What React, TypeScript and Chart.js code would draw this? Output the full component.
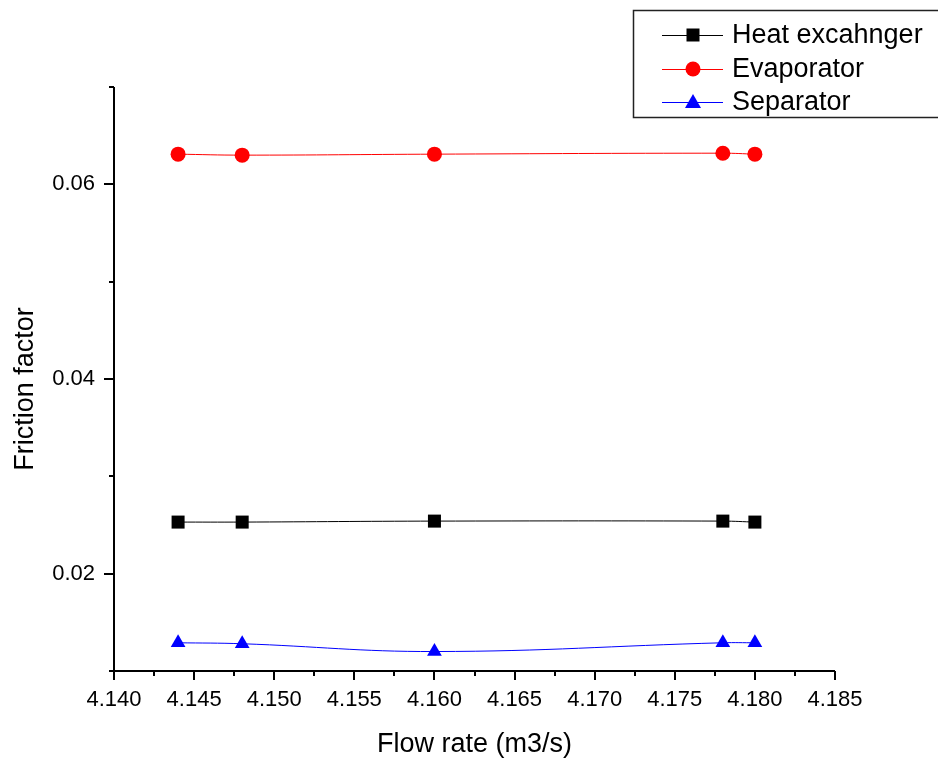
import { useEffect, useRef } from "react";
import { Chart, registerables } from "chart.js";

Chart.register(...registerables);

// Flow rate (m3/s) at each measurement
const flowRate = [4.144, 4.148, 4.16, 4.178, 4.18];

// Friction factor per unit
const heatExchanger = [0.0253, 0.0253, 0.0254, 0.0254, 0.0253];
const evaporator = [0.0631, 0.063, 0.0631, 0.0632, 0.0631];
const separator = [0.0129, 0.0128, 0.012, 0.0129, 0.0129];

const seriesNames = ["Heat excahnger", "Evaporator", "Separator"];
const seriesColors = ["#000000", "#ff0000", "#0000ff"];
const seriesMarkers = ["rect", "circle", "triangle"];

// Axis ranges and tick spacing
const xMin = 4.14;
const xMax = 4.185;
const xStep = 0.005;
const yMin = 0.01;
const yMax = 0.07;
const yStep = 0.01;
const yLabelled = [0.02, 0.04, 0.06];

const xTitle = "Flow rate (m3/s)";
const yTitle = "Friction factor";

const FONT = 'Arial, "Liberation Sans", sans-serif';

function drawMarker(ctx: CanvasRenderingContext2D, style: string, x: number, y: number, color: string) {
  ctx.fillStyle = color;
  ctx.beginPath();
  if (style === "rect") {
    ctx.rect(x - 6.5, y - 6.5, 13, 13);
  } else if (style === "circle") {
    ctx.arc(x, y, 7.5, 0, Math.PI * 2);
  } else {
    ctx.moveTo(x, y - 8);
    ctx.lineTo(x + 8, y + 6);
    ctx.lineTo(x - 8, y + 6);
    ctx.closePath();
  }
  ctx.fill();
}

const frame = {
  id: "frame",
  afterDraw(chart: any) {
    const { ctx, chartArea, scales } = chart;
    const { left, right, top, bottom } = chartArea;
    const x = scales.x;
    const y = scales.y;
    ctx.save();
    ctx.strokeStyle = "#000";
    ctx.lineWidth = 2;
    ctx.beginPath();
    ctx.moveTo(left, top);
    ctx.lineTo(left, bottom);
    ctx.lineTo(right, bottom);
    ctx.stroke();

    // x ticks: major at every step, minor halfway
    const nx = Math.round((xMax - xMin) / (xStep / 2));
    ctx.beginPath();
    for (let i = 0; i <= nx; i++) {
      const px = Math.round(x.getPixelForValue(xMin + (i * xStep) / 2));
      const len = i % 2 === 0 ? 9 : 5;
      ctx.moveTo(px, bottom);
      ctx.lineTo(px, bottom + len);
    }
    // y ticks: major where labelled
    const ny = Math.round((yMax - yMin) / yStep);
    for (let i = 0; i <= ny; i++) {
      const v = yMin + i * yStep;
      const py = Math.round(y.getPixelForValue(v));
      const major = yLabelled.some((m) => Math.abs(m - v) < 1e-9);
      const len = major ? 10 : 5;
      ctx.moveTo(left, py);
      ctx.lineTo(left - len, py);
    }
    ctx.stroke();

    // axis titles
    ctx.fillStyle = "#000";
    ctx.font = `27px ${FONT}`;
    ctx.textAlign = "center";
    ctx.textBaseline = "alphabetic";
    ctx.fillText(xTitle, (left + right) / 2, 752);
    ctx.save();
    ctx.translate(33, (top + bottom) / 2 + 10);
    ctx.rotate(-Math.PI / 2);
    ctx.fillText(yTitle, 0, 0);
    ctx.restore();

    // legend box
    ctx.lineWidth = 1.5;
    ctx.strokeStyle = "#222";
    ctx.strokeRect(633.5, 10.5, 340, 107);
    const rows = [35, 69, 102];
    ctx.font = `27px ${FONT}`;
    ctx.textAlign = "left";
    ctx.textBaseline = "middle";
    seriesNames.forEach((name, i) => {
      const ry = rows[i];
      ctx.strokeStyle = seriesColors[i];
      ctx.lineWidth = 1;
      ctx.beginPath();
      ctx.moveTo(662, ry + 0.5);
      ctx.lineTo(723, ry + 0.5);
      ctx.stroke();
      drawMarker(ctx, seriesMarkers[i], 693, ry, seriesColors[i]);
      ctx.fillStyle = "#000";
      ctx.fillText(name, 732, ry + 1);
    });
    ctx.restore();
  },
};

export default function App() {
  const canvasRef = useRef<HTMLCanvasElement | null>(null);

  useEffect(() => {
    const canvas = canvasRef.current;
    if (!canvas) return;
    const values = [heatExchanger, evaporator, separator];
    const radii = [9.2, 7.5, 8.5];
    const chart = new Chart(canvas, {
      type: "scatter",
      data: {
        datasets: seriesNames.map((name, i) => ({
          label: name,
          data: flowRate.map((fx, j) => ({ x: fx, y: values[i][j] })),
          showLine: true,
          borderColor: seriesColors[i],
          backgroundColor: seriesColors[i],
          borderWidth: 1,
          tension: 0.4,
          pointStyle: seriesMarkers[i] as any,
          pointRadius: radii[i],
          pointBorderWidth: 0,
          pointHoverRadius: radii[i],
        })),
      },
      options: {
        animation: false,
        responsive: false,
        devicePixelRatio: 1,
        layout: { padding: { left: 0, top: 87, right: 103, bottom: 0 } },
        plugins: { legend: { display: false }, tooltip: { enabled: false } },
        events: [],
        scales: {
          x: {
            type: "linear",
            min: xMin,
            max: xMax,
            grid: { display: false, drawTicks: false },
            border: { display: false },
            ticks: {
              stepSize: xStep,
              autoSkip: false,
              maxRotation: 0,
              padding: 16,
              color: "#000",
              font: { family: FONT, size: 22 },
              callback: (v: any) => Number(v).toFixed(3),
            },
            afterFit: (s: any) => {
              s.height = 87;
            },
          },
          y: {
            type: "linear",
            min: yMin,
            max: yMax,
            grid: { display: false, drawTicks: false },
            border: { display: false },
            ticks: {
              stepSize: yStep,
              autoSkip: false,
              padding: 19,
              color: "#000",
              font: { family: FONT, size: 22 },
              callback: (v: any) => {
                const n = Number(v);
                return yLabelled.some((m) => Math.abs(m - n) < 1e-9) ? n.toFixed(2) : "";
              },
            },
            afterFit: (s: any) => {
              s.width = 114;
            },
          },
        },
      },
      plugins: [frame],
    });
    return () => chart.destroy();
  }, []);

  return (
    <div style={{ position: "absolute", left: 0, top: 0, width: 938, height: 758, background: "#fff" }}>
      <canvas ref={canvasRef} width={938} height={758} />
    </div>
  );
}
